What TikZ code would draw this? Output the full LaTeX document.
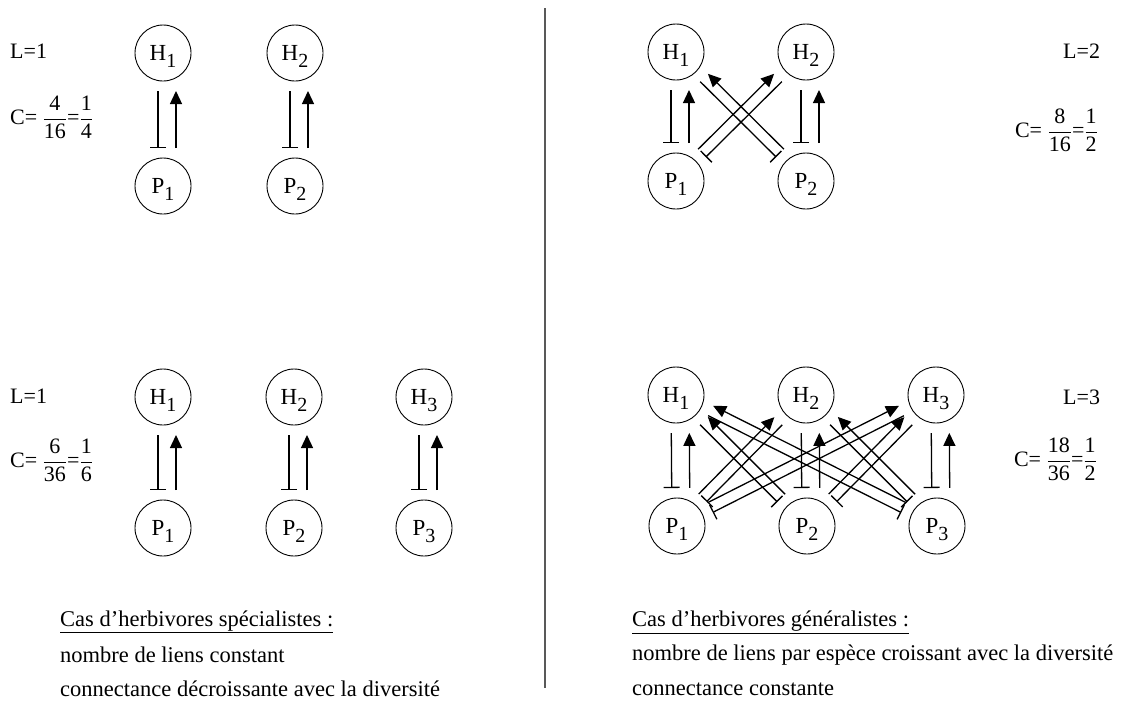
\documentclass[tikz,border=0pt]{standalone}
\usepackage{fontspec}
\setmainfont{Liberation Serif}
\usetikzlibrary{arrows.meta,calc}
\tikzset{
  sp/.style={circle, draw, line width=0.9pt, minimum size=56pt, inner sep=0pt, text depth=0pt, font=\fontsize{23}{27}\selectfont},
  act/.style={line width=1.3pt, -{Triangle[length=13pt,width=12pt]}},
  inh/.style={line width=1.3pt, -{Bar[width=16pt,line width=1.3pt]}},
  lab/.style={font=\fontsize{22}{26}\selectfont, inner sep=0pt},
  txt/.style={font=\fontsize{22.5}{27}\selectfont, inner sep=0pt, anchor=west},
  sep/.style={line width=1.2pt, draw=black!65},
  uline/.style={line width=0.9pt},
}
\newcommand{\HPlink}[4]{%
  \draw[act] ($(#2)!38pt!(#1)!#3!90:(#1)$) -- ($(#1)!38pt!(#2)!#3!-90:(#2)$);
  \draw[inh] ($(#1)!38pt!(#2)!#4!-90:(#2)$) -- ($(#2)!38pt!(#1)!#4!90:(#1)$);
}
\newcommand{\fr}[2]{\frac{\mbox{#1}}{\mbox{#2}}}
\newcommand{\lsub}[1]{\raisebox{-6.5pt}[0pt][0pt]{\fontsize{20}{20}\selectfont #1}}
\begin{document}
\begin{tikzpicture}[x=1pt,y=-1pt]
\useasboundingbox (0,0) rectangle (1127,715);

% separator
\draw[sep] (545,8) -- (545,688);

% ---------- top left
\node[sp] (a1) at (163,53) {H\lsub{1}};
\node[sp] (a2) at (295,53) {H\lsub{2}};
\node[sp] (b1) at (163,186) {P\lsub{1}};
\node[sp] (b2) at (295,186) {P\lsub{2}};
\HPlink{a1}{b1}{-13pt}{5pt}
\HPlink{a2}{b2}{-13pt}{5pt}
\node[lab, anchor=west] (la) at (10,51) {L=1};
\node[lab, anchor=west] (ca) at (10,117) {C=~$\displaystyle\fr{4}{16}\mbox{=}\fr{1}{4}$};

% ---------- top right
\node[sp] (c1) at (676,52) {H\lsub{1}};
\node[sp] (c2) at (806,52) {H\lsub{2}};
\node[sp] (d1) at (676,181) {P\lsub{1}};
\node[sp] (d2) at (806,181) {P\lsub{2}};
\HPlink{c1}{d1}{-13pt}{5pt}
\HPlink{c2}{d2}{-13pt}{5pt}
\HPlink{c2}{d1}{7pt}{-4pt}
\HPlink{c1}{d2}{-7pt}{4pt}
\node[lab, anchor=west] (lb) at (1063,51) {L=2};
\node[lab, anchor=east] (cb) at (1098,130) {C=~$\displaystyle\fr{8}{16}\mbox{=}\fr{1}{2}$};

% ---------- bottom left
\node[sp] (e1) at (163,397) {H\lsub{1}};
\node[sp] (e2) at (294,397) {H\lsub{2}};
\node[sp] (e3) at (424,397) {H\lsub{3}};
\node[sp] (f1) at (163,528) {P\lsub{1}};
\node[sp] (f2) at (294,528) {P\lsub{2}};
\node[sp] (f3) at (424,528) {P\lsub{3}};
\HPlink{e1}{f1}{-13pt}{5pt}
\HPlink{e2}{f2}{-13pt}{5pt}
\HPlink{e3}{f3}{-13pt}{5pt}
\node[lab, anchor=west] (lc) at (10,396) {L=1};
\node[lab, anchor=west] (cc) at (10,460) {C=~$\displaystyle\fr{6}{36}\mbox{=}\fr{1}{6}$};

% ---------- bottom right
\node[sp] (g1) at (676,395) {H\lsub{1}};
\node[sp] (g2) at (806,395) {H\lsub{2}};
\node[sp] (g3) at (936,395) {H\lsub{3}};
\node[sp] (h1) at (677,526) {P\lsub{1}};
\node[sp] (h2) at (807,526) {P\lsub{2}};
\node[sp] (h3) at (937,526) {P\lsub{3}};
\HPlink{g1}{h1}{-13pt}{5pt}
\HPlink{g2}{h2}{-13pt}{5pt}
\HPlink{g3}{h3}{-13pt}{5pt}
\HPlink{g2}{h1}{7pt}{-4pt}
\HPlink{g3}{h1}{7pt}{-4pt}
\HPlink{g3}{h2}{7pt}{-4pt}
\HPlink{g1}{h2}{-7pt}{4pt}
\HPlink{g1}{h3}{-7pt}{4pt}
\HPlink{g2}{h3}{-7pt}{4pt}
\node[lab, anchor=west] (ld) at (1063,397) {L=3};
\node[lab, anchor=east] (cd) at (1097,459) {C=~$\displaystyle\fr{18}{36}\mbox{=}\fr{1}{2}$};

% ---------- captions
\node[txt] (s1) at (60,621) {Cas d’herbivores spécialistes :};
\node[txt] (s2) at (60,655) {nombre de liens constant};
\node[txt] (s3) at (60,689) {connectance décroissante avec la diversité};
\draw[uline] ([yshift=-1.5pt]s1.south west) -- ([yshift=-1.5pt]s1.south east);
\node[txt] (t1) at (632,621) {Cas d’herbivores généralistes :};
\node[txt] (t2) at (632,655) {nombre de liens par espèce croissant avec la diversité};
\node[txt] (t3) at (632,689) {connectance constante};
\draw[uline] ([yshift=-1.5pt]t1.south west) -- ([yshift=-1.5pt]t1.south east);
\end{tikzpicture}
\end{document}
